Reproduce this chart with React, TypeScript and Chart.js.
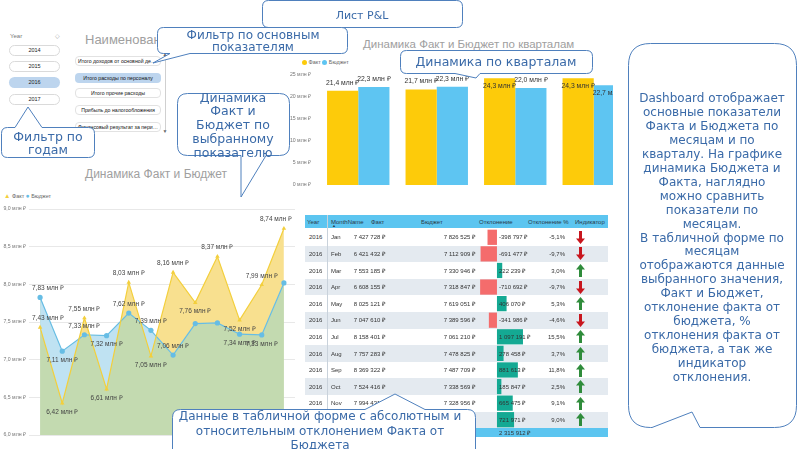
import React, { useEffect, useRef } from 'react';
import { Chart, registerables } from 'chart.js';

Chart.register(...registerables);

const FONT = "'Liberation Sans', Arial, sans-serif";
const CALLOUT_FONT = "'DejaVu Sans', sans-serif";
Chart.defaults.font.family = FONT;

// ---------- data ----------
const months = ['Jan', 'Feb', 'Mar', 'Apr', 'May', 'Jun', 'Jul', 'Aug', 'Sep', 'Oct', 'Nov', 'Dec'];
const factRub = [7427728, 6421432, 7553185, 6608155, 8025121, 7047610, 8158401, 7757283, 8369322, 7524416, 7994431, 8740531];
const budgetRub = [7826525, 7112909, 7330946, 7318847, 7619051, 7389596, 7061210, 7478825, 7487709, 7338569, 7328956, 8018560];
const quarterLabels = ['1', '2', '3', '4'];
const tableYear = '2016';
// label placement for the line chart: a = above, b = below, '' = hidden
const factLabelPos = ['a', 'b', 'a', 'b', 'a', 'b', 'a', 'b', 'a', 'b', 'a', 'a'];
const budgetLabelPos = ['a', 'b', 'a', 'b', 'a', 'a', 'a', '', '', 'b', 'b', ''];
const years = ['2014', '2015', '2016', '2017'];
const selectedYear = '2016';
const indicatorNames = [
  'Итого доходов от основной деятельности',
  'Итого расходы по персоналу',
  'Итого прочие расходы',
  'Прибыль до налогообложения',
  'Финансовый результат за период',
];
const selectedIndicator = 1;
const tableHeaders = ['Year', 'MonthName', 'Факт', 'Бюджет', 'Отклонение', 'Отклонение %', 'Индикатор'];
const rightText = [
  'Dashboard отображает',
  'основные показатели',
  'Факта и Бюджета по',
  'месяцам и по',
  'кварталу. На графике',
  'динамика Бюджета и',
  'Факта, наглядно',
  'можно сравнить',
  'показатели по',
  'месяцам.',
  'В табличной форме по',
  'месяцам',
  'отображаются данные',
  'выбранного значения,',
  'Факт и Бюджет,',
  'отклонение факта от',
  'бюджета, %',
  'отклонения факта от',
  'бюджета, а так же',
  'индикатор',
  'отклонения.',
];

// ---------- helpers ----------
function fmtMln(v: number, d: number) {
  return v.toFixed(d).replace('.', ',') + ' млн ₽';
}
function fmtRub(v: number) {
  const s = Math.round(Math.abs(v)).toString().replace(/\B(?=(\d{3})+(?!\d))/g, ' ');
  return (v < 0 ? '-' : '') + s + ' ₽';
}

const YELLOW = '#FDCB0A';
const BLUE = '#5EC5F2';

// ---------- line chart ----------
const lineLabelPlugin = {
  id: 'lineLabels',
  afterDatasetsDraw(chart: any) {
    const ctx = chart.ctx;
    const area = chart.chartArea;
    ctx.save();
    ctx.font = `6.5px ${FONT}`;
    ctx.fillStyle = '#444';
    ctx.textAlign = 'center';
    ctx.textBaseline = 'middle';
    chart.data.datasets.forEach((ds: any, di: number) => {
      const pos = di === 0 ? factLabelPos : budgetLabelPos;
      chart.getDatasetMeta(di).data.forEach((pt: any, i: number) => {
        const p = pos[i];
        if (p !== 'a' && p !== 'b') return;
        const txt = fmtMln(ds.data[i], 2);
        const w = ctx.measureText(txt).width;
        let x = pt.x;
        x = Math.max(area.left + w / 2 + 3, Math.min(area.right - w / 2 - 3, x));
        ctx.fillText(txt, x, pt.y + (p === 'a' ? -9 : 9));
      });
    });
    ctx.restore();
  },
};

function LineChart() {
  const ref = useRef<HTMLCanvasElement>(null);
  useEffect(() => {
    const fact = factRub.map((v) => v / 1e6);
    const budget = budgetRub.map((v) => v / 1e6);
    const chart = new Chart(ref.current!, {
      type: 'line',
      data: {
        labels: months,
        datasets: [
          {
            label: 'Факт',
            data: fact,
            borderColor: '#F3CF3C',
            backgroundColor: '#F3CF3C',
            borderWidth: 1.2,
            pointStyle: 'triangle',
            pointRadius: 2.6,
            pointBorderWidth: 0,
            tension: 0,
            fill: { target: 1, above: '#F8E08F', below: '#BFE2F2' } as any,
          },
          {
            label: 'Бюджет',
            data: budget,
            borderColor: '#66BDE5',
            backgroundColor: '#66BDE5',
            borderWidth: 1.2,
            pointStyle: 'circle',
            pointRadius: 2.6,
            pointBorderWidth: 0,
            tension: 0,
            fill: { target: 'start', above: '#C3DAB0', below: '#C3DAB0' } as any,
          },
        ],
      },
      options: {
        responsive: false,
        animation: false,
        events: [],
        layout: { padding: { top: 9, right: 5, left: 0, bottom: 0 } },
        scales: {
          x: {
            offset: true,
            grid: { display: false },
            border: { display: false },
            ticks: { padding: 5, color: '#777', font: { size: 6 }, autoSkip: false, maxRotation: 0 },
            afterFit: (s: any) => {
              s.height = 14;
            },
          },
          y: {
            min: 6,
            max: 9,
            grid: { color: '#E8E8E8', drawTicks: false },
            border: { display: false },
            ticks: {
              stepSize: 0.5,
              padding: 3,
              color: '#777',
              font: { size: 5.2 },
              callback: (v: any) => fmtMln(Number(v), 1),
            },
            afterFit: (s: any) => {
              s.width = 29;
            },
          },
        },
        plugins: {
          legend: { display: false },
          tooltip: { enabled: false },
          filler: { drawTime: 'beforeDatasetsDraw' } as any,
        },
      },
      plugins: [lineLabelPlugin],
    });
    return () => chart.destroy();
  }, []);
  return (
    <canvas
      ref={ref}
      width={300}
      height={249}
      style={{ position: 'absolute', left: 0, top: 200, width: 300, height: 249 }}
    />
  );
}

// ---------- bar chart ----------
const barLabelPlugin = {
  id: 'barLabels',
  afterDatasetsDraw(chart: any) {
    const ctx = chart.ctx;
    ctx.save();
    ctx.font = `6.8px ${FONT}`;
    ctx.fillStyle = '#333';
    ctx.textAlign = 'center';
    ctx.textBaseline = 'middle';
    chart.data.datasets.forEach((ds: any, di: number) => {
      chart.getDatasetMeta(di).data.forEach((bar: any, i: number) => {
        const inside = bar.y - 11 < chart.chartArea.top;
        ctx.fillText(fmtMln(ds.data[i], 1), bar.x, inside ? bar.y + 8 : bar.y - 8);
      });
    });
    ctx.restore();
  },
};

function BarChart() {
  const ref = useRef<HTMLCanvasElement>(null);
  useEffect(() => {
    const qFact = quarterLabels.map((_, q) => factRub.slice(q * 3, q * 3 + 3).reduce((a, b) => a + b, 0) / 1e6);
    const qBudget = quarterLabels.map((_, q) => budgetRub.slice(q * 3, q * 3 + 3).reduce((a, b) => a + b, 0) / 1e6);
    const chart = new Chart(ref.current!, {
      type: 'bar',
      data: {
        labels: quarterLabels,
        datasets: [
          { label: 'Факт', data: qFact, backgroundColor: YELLOW, categoryPercentage: 0.795, barPercentage: 1 },
          { label: 'Бюджет', data: qBudget, backgroundColor: BLUE, categoryPercentage: 0.795, barPercentage: 1 },
        ],
      },
      options: {
        responsive: false,
        animation: false,
        events: [],
        layout: { padding: { top: 9, right: 5, left: 0, bottom: 0 } },
        scales: {
          x: {
            grid: { display: false },
            border: { display: false },
            ticks: { padding: 2, color: '#666', font: { size: 6 } },
            afterFit: (s: any) => {
              s.height = 11;
            },
          },
          y: {
            min: 0,
            max: 25,
            grid: { display: false },
            border: { display: false },
            ticks: {
              stepSize: 5,
              padding: 0,
              color: '#777',
              font: { size: 5.2 },
              callback: (v: any) => v + ' млн ₽',
            },
            afterFit: (s: any) => {
              s.width = 35;
            },
          },
        },
        plugins: { legend: { display: false }, tooltip: { enabled: false } },
      },
      plugins: [barLabelPlugin],
    });
    return () => chart.destroy();
  }, []);
  return (
    <div style={{ position: 'absolute', left: 284, top: 66, width: 329, height: 130, overflow: 'hidden' }}>
      <canvas ref={ref} width={354} height={130} style={{ width: 354, height: 130 }} />
    </div>
  );
}

// ---------- table ----------
const ROW_TOP = 229;
const ROW_H = 16.6;

function Arrow({ up }: { up: boolean }) {
  const c = up ? '#2F8C3B' : '#C8161E';
  return (
    <svg width="9" height="13" viewBox="0 0 9 13" style={{ display: 'block' }}>
      {up ? (
        <polygon points="4.5,0 9,5.5 6,5.5 6,13 3,13 3,5.5 0,5.5" fill={c} />
      ) : (
        <polygon points="3,0 6,0 6,7.5 9,7.5 4.5,13 0,7.5 3,7.5" fill={c} />
      )}
    </svg>
  );
}

function DataTable() {
  const devRef = useRef<HTMLCanvasElement>(null);
  const dev = factRub.map((f, i) => f - budgetRub[i]);
  const total = dev.reduce((a, b) => a + b, 0);
  useEffect(() => {
    const chart = new Chart(devRef.current!, {
      type: 'bar',
      data: {
        labels: months,
        datasets: [
          {
            data: dev.map((d) => d / 1e6),
            backgroundColor: dev.map((d) => (d < 0 ? '#F46C6C' : '#14A993')),
            categoryPercentage: 0.92,
            barPercentage: 1,
          },
        ],
      },
      options: {
        indexAxis: 'y',
        responsive: false,
        animation: false,
        events: [],
        layout: { padding: 0 },
        scales: { x: { display: false, min: -0.8, max: 1.9 }, y: { display: false } },
        plugins: { legend: { display: false }, tooltip: { enabled: false } },
      },
    });
    return () => chart.destroy();
  }, []);

  const txt: React.CSSProperties = { position: 'absolute', fontSize: 6, color: '#333', whiteSpace: 'nowrap', lineHeight: '8px' };
  const headerY = 215;
  const headerLefts = [307, 331, 371, 421, 479, 528, 575];
  return (
    <>
      <div style={{ position: 'absolute', left: 305, top: headerY, width: 303, height: 13, background: '#5CC5F0' }} />
      {tableHeaders.map((h, i) => (
        <div key={h} style={{ ...txt, left: headerLefts[i], top: headerY + 2.5, color: '#2a3a4a' }}>
          {h}
        </div>
      ))}
      <div style={{ ...txt, left: 332, top: headerY + 8, fontSize: 4, lineHeight: '5px', color: '#2a3a4a' }}>▲</div>
      {months.map((m, i) => (
        <div
          key={'bg' + m}
          style={{
            position: 'absolute',
            left: 305,
            top: ROW_TOP + i * ROW_H,
            width: 303,
            height: ROW_H,
            background: i % 2 === 1 ? '#E4EAF0' : '#FFFFFF',
          }}
        />
      ))}
      <canvas
        ref={devRef}
        width={64}
        height={Math.round(ROW_H * 12)}
        style={{ position: 'absolute', left: 478, top: ROW_TOP, width: 64, height: Math.round(ROW_H * 12) }}
      />
      {months.map((m, i) => {
        const top = ROW_TOP + i * ROW_H + ROW_H / 2 - 4;
        const pct = ((dev[i] / budgetRub[i]) * 100).toFixed(1).replace('.', ',') + '%';
        return (
          <React.Fragment key={'r' + m}>
            <div style={{ ...txt, left: 309, top }}>{tableYear}</div>
            <div style={{ ...txt, left: 331, top }}>{m}</div>
            <div style={{ ...txt, left: 335, width: 50, top, textAlign: 'right' }}>{fmtRub(factRub[i])}</div>
            <div style={{ ...txt, left: 425, width: 50, top, textAlign: 'right' }}>{fmtRub(budgetRub[i])}</div>
            <div style={{ ...txt, left: 499, top }}>{fmtRub(dev[i])}</div>
            <div style={{ ...txt, left: 530, width: 35, top, textAlign: 'right' }}>{pct}</div>
            <div style={{ position: 'absolute', left: 576, top: ROW_TOP + i * ROW_H + ROW_H / 2 - 6.5 }}>
              <Arrow up={dev[i] >= 0} />
            </div>
          </React.Fragment>
        );
      })}
      <div style={{ position: 'absolute', left: 305, top: 428, width: 303, height: 9, background: '#5CC5F0' }} />
      <div style={{ ...txt, left: 499, top: 428.5 }}>{fmtRub(total)}</div>
      <div style={{ position: 'absolute', left: 327, top: headerY, width: 1, height: 222, background: '#C9D2DB' }} />
    </>
  );
}

// ---------- slicers / titles ----------
function Slicers() {
  return (
    <>
      <div style={{ position: 'absolute', left: 10, top: 33, fontSize: 6, color: '#777' }}>Year</div>
      <div style={{ position: 'absolute', left: 55, top: 32, fontSize: 6, color: '#999' }}>◇</div>
      {years.map((y, i) => (
        <div
          key={y}
          style={{
            position: 'absolute',
            left: 9,
            top: [45, 61, 77, 94][i],
            width: 51,
            height: 11,
            boxSizing: 'border-box',
            border: y === selectedYear ? 'none' : '1px solid #DADADA',
            background: y === selectedYear ? '#BDD5EE' : '#fff',
            borderRadius: 6,
            fontSize: 5.5,
            lineHeight: y === selectedYear ? '11px' : '9px',
            textAlign: 'center',
            color: '#222',
          }}
        >
          {y}
        </div>
      ))}
      <div style={{ position: 'absolute', left: 85, top: 32, fontSize: 13, color: '#A0A0A0', whiteSpace: 'nowrap' }}>
        Наименование
      </div>
      {indicatorNames.map((n, i) => (
        <div
          key={n}
          style={{
            position: 'absolute',
            left: 75,
            top: [56, 72.5, 88, 105, 122][i],
            width: 86,
            height: 10,
            boxSizing: 'border-box',
            border: i === selectedIndicator ? 'none' : '1px solid #E2E2E2',
            background: i === selectedIndicator ? '#BDD5EE' : '#fff',
            borderRadius: 4,
            fontSize: 5.2,
            lineHeight: i === selectedIndicator ? '10px' : '8px',
            textAlign: 'center',
            color: '#111',
            whiteSpace: 'nowrap',
            overflow: 'hidden',
            textOverflow: 'ellipsis',
            padding: '0 2px',
          }}
        >
          {n}
        </div>
      ))}
      <div style={{ position: 'absolute', left: 165, top: 56, width: 1, height: 74, background: '#D0D0D0' }} />
      <div style={{ position: 'absolute', left: 162.5, top: 51, fontSize: 5, color: '#666' }}>▲</div>
      <div style={{ position: 'absolute', left: 162.5, top: 128, fontSize: 5, color: '#666' }}>▼</div>

      <div style={{ position: 'absolute', left: 85, top: 167, fontSize: 12, color: '#A0A0A0', whiteSpace: 'nowrap' }}>
        Динамика Факт и Бюджет
      </div>
      <div style={{ position: 'absolute', left: 4, top: 192, fontSize: 5.5, color: '#666', whiteSpace: 'nowrap' }}>
        <span style={{ color: '#F3CF3C', fontSize: 6.5 }}>▲</span> Факт{' '}
        <span style={{ color: '#66BDE5', fontSize: 6.5 }}>●</span> Бюджет
      </div>

      <div style={{ position: 'absolute', left: 363, top: 38, fontSize: 11.5, color: '#A0A0A0', whiteSpace: 'nowrap' }}>
        Динамика Факт и Бюджет по кварталам
      </div>
      <div style={{ position: 'absolute', left: 302, top: 59, fontSize: 5.5, color: '#666', whiteSpace: 'nowrap', lineHeight: '7px' }}>
        <span style={{ display: 'inline-block', width: 5, height: 5, borderRadius: 3, background: YELLOW, verticalAlign: 'middle' }} /> Факт{' '}
        <span style={{ display: 'inline-block', width: 5, height: 5, borderRadius: 3, background: BLUE, verticalAlign: 'middle' }} /> Бюджет
      </div>
    </>
  );
}

// ---------- callouts ----------
type Tail = { side: 'top' | 'bottom'; b1: number; b2: number; ax: number; ay: number };
function calloutPath(x: number, y: number, w: number, h: number, r: number, tail?: Tail) {
  let d = `M ${x + r} ${y}`;
  if (tail && tail.side === 'top') d += ` L ${tail.b1} ${y} L ${tail.ax} ${tail.ay} L ${tail.b2} ${y}`;
  d += ` L ${x + w - r} ${y} Q ${x + w} ${y} ${x + w} ${y + r} L ${x + w} ${y + h - r} Q ${x + w} ${y + h} ${x + w - r} ${y + h}`;
  if (tail && tail.side === 'bottom') d += ` L ${tail.b2} ${y + h} L ${tail.ax} ${tail.ay} L ${tail.b1} ${y + h}`;
  d += ` L ${x + r} ${y + h} Q ${x} ${y + h} ${x} ${y + h - r} L ${x} ${y + r} Q ${x} ${y} ${x + r} ${y} Z`;
  return d;
}

type Callout = {
  x: number; y: number; w: number; h: number; r: number; tail?: Tail;
  cx: number; ty: number; lh: number; lines: string[]; size: number;
};

const callouts: Callout[] = [
  { x: 262.5, y: 0.5, w: 200, h: 27, r: 6, cx: 362, ty: 15, lh: 14, lines: ['Лист P&L'], size: 11 },
  {
    x: 157.5, y: 27.5, w: 190, h: 26, r: 6,
    tail: { side: 'bottom', b1: 170, b2: 190, ax: 153, ay: 63 },
    cx: 253, ty: 35, lh: 12, lines: ['Фильтр по основным', 'показателям'], size: 12,
  },
  {
    x: 1.5, y: 127.5, w: 93, h: 30, r: 6,
    tail: { side: 'top', b1: 15, b2: 42, ax: 28, ay: 107 },
    cx: 48, ty: 136, lh: 13, lines: ['Фильтр по', 'годам'], size: 12.5,
  },
  {
    x: 177.5, y: 93.5, w: 112, h: 62, r: 10,
    tail: { side: 'bottom', b1: 241, b2: 266, ax: 241, ay: 197 },
    cx: 233, ty: 97, lh: 13.8, lines: ['Динамика', 'Факт и', 'Бюджет по', 'выбранному', 'показателю'], size: 12.5,
  },
  {
    x: 400.5, y: 50.5, w: 192, h: 23, r: 6,
    tail: { side: 'bottom', b1: 455, b2: 480, ax: 476, ay: 78 },
    cx: 496, ty: 61.5, lh: 14, lines: ['Динамика по кварталам'], size: 12.5,
  },
  {
    x: 172.5, y: 409.5, w: 303, h: 50, r: 8,
    tail: { side: 'top', b1: 365, b2: 425, ax: 395, ay: 394 },
    cx: 320, ty: 416, lh: 14.5, lines: ['Данные в табличной форме с абсолютным и', 'относительным отклонением Факта от', 'Бюджета'], size: 12,
  },
  {
    x: 628.5, y: 43.5, w: 168, h: 384, r: 22,
    tail: { side: 'bottom', b1: 652, b2: 700, ax: 692, ay: 412 },
    cx: 712, ty: 98, lh: 13.95, lines: rightText, size: 12,
  },
];

function Callouts() {
  return (
    <svg
      width={800}
      height={449}
      style={{ position: 'absolute', left: 0, top: 0, pointerEvents: 'none' }}
    >
      {callouts.map((c, i) => (
        <g key={i}>
          <path d={calloutPath(c.x, c.y, c.w, c.h, c.r, c.tail)} fill="#fff" stroke="#4F80BD" strokeWidth={1} />
          {c.lines.map((l, j) => (
            <text
              key={j}
              x={c.cx}
              y={c.ty + j * c.lh}
              textAnchor="middle"
              dominantBaseline="central"
              fontFamily={CALLOUT_FONT}
              fontSize={c.size}
              fill="#3A6AA8"
            >
              {l}
            </text>
          ))}
        </g>
      ))}
    </svg>
  );
}

export default function App() {
  return (
    <div
      style={{
        position: 'absolute',
        left: 0,
        top: 0,
        width: 800,
        height: 449,
        overflow: 'hidden',
        background: '#fff',
        fontFamily: FONT,
      }}
    >
      <Slicers />
      <LineChart />
      <BarChart />
      <DataTable />
      <Callouts />
    </div>
  );
}
